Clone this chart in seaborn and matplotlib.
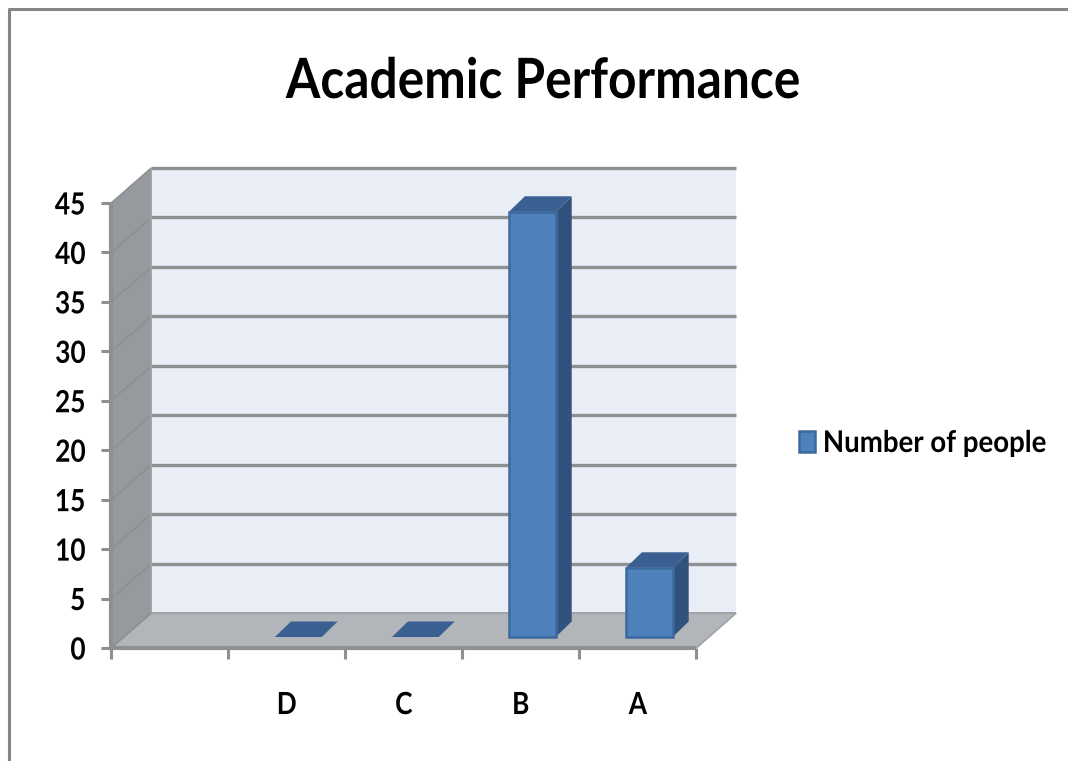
import matplotlib
matplotlib.use("Agg")
import matplotlib.pyplot as plt
import numpy as np
import pandas as pd
import seaborn as sns
from matplotlib.lines import Line2D
from matplotlib.patches import Patch, Polygon
from matplotlib.patheffects import AbstractPathEffect
from matplotlib.transforms import Affine2D, IdentityTransform

# Chart content
title = "Academic Performance"
series_name = "Number of people"
grades = ["", "D", "C", "B", "A"]
people = [np.nan, 0, 0, 43, 7]
y_ticks = [0, 5, 10, 15, 20, 25, 30, 35, 40, 45]

# Palette
WALL = "#e9edf6"
SIDE_WALL = "#96999e"
FLOOR = "#b2b5b9"
RULE = "#8e8f90"
BAR = "#4f81bd"
BAR_EDGE = "#3c6a9f"
BAR_TOP = "#3a6091"
BAR_SIDE = "#31527c"
FRAME = "#858585"

# Pseudo-3D offsets, in pixels
ROOM_DX, ROOM_DY = 40, 35
BAR_SHIFT_DX, BAR_SHIFT_DY = 11.5, 11
BAR_DX, BAR_DY = 16, 15.5

W, H = 1068, 761
sns.set_theme(style="white")
plt.rcParams["font.family"] = ["Lato", "DejaVu Sans"]


class Condensed(AbstractPathEffect):
    """Narrow the glyphs horizontally, keeping the given anchor of the string in place."""

    def __init__(self, factor, anchor=0.0):
        super().__init__()
        self.factor = factor
        self.anchor = anchor

    def draw_path(self, renderer, gc, tpath, affine, rgbFace=None):
        right = tpath.get_extents().x1
        squeeze = Affine2D().scale(self.factor, 1).translate((1 - self.factor) * self.anchor * right, 0)
        renderer.draw_path(gc, tpath, squeeze + affine, rgbFace)


fig = plt.figure(figsize=(W / 100, H / 100), dpi=100, facecolor="white")
ax = fig.add_axes([111.3 / W, (H - 648) / H, 585 / W, 445 / H], facecolor="none")

df = pd.DataFrame({"grade": grades, "people": people})
sns.barplot(data=df, x="grade", y="people", order=grades, width=0.40,
            color=BAR, saturation=1, ax=ax, zorder=5)

ax.set_xlim(-0.5, len(grades) - 0.5)
ax.set_ylim(min(y_ticks), max(y_ticks))
ax.set_xlabel("")
ax.set_ylabel("")
for side in ax.spines.values():
    side.set_visible(False)


def to_px(x, y):
    return ax.transData.transform((x, y))


def face(points, color, z, edge="none", lw=0.0):
    ax.add_patch(Polygon(points, closed=True, facecolor=color, edgecolor=edge, linewidth=lw,
                         transform=IdentityTransform(), clip_on=False, zorder=z))


def rule(p, q, z=2, lw=2.4, color=RULE):
    ax.add_line(Line2D([p[0], q[0]], [p[1], q[1]], color=color, linewidth=lw,
                       transform=IdentityTransform(), clip_on=False, zorder=z,
                       solid_capstyle="butt"))


room = np.array([ROOM_DX, ROOM_DY])
x0, x1 = ax.get_xlim()
y0, y1 = ax.get_ylim()
fl, fr, tl = to_px(x0, y0), to_px(x1, y0), to_px(x0, y1)
tr = to_px(x1, y1)

# Room: back wall, side wall, floor
face([fl + room, fr + room, tr + room, tl + room], WALL, 0)
face([fl, fl + room, tl + room, tl], SIDE_WALL, 1)
face([fl, fr, fr + room, fl + room], FLOOR, 1)

# Value rules along the side wall and the back wall
for v in y_ticks:
    a, b = to_px(x0, v), to_px(x1, v)
    rule(a, a + room, lw=1.2)
    if v != y_ticks[0]:
        rule(a + room, b + room)
rule(fl + room, fr + room, lw=1.4, color="#a0a2a5")
rule(fr, fr + room, lw=1.2, color="#a0a2a5")
rule(fl + room, tl + room, lw=1.4, color="#a0a2a5")

# Front axis lines
rule(fl, tl, z=3, lw=3.0)
rule(fl, fr, z=3, lw=3.0)

# Lift the seaborn bars onto the floor and add their side and top faces
shift = np.array([BAR_SHIFT_DX, BAR_SHIFT_DY])
depth = np.array([BAR_DX, BAR_DY])
lift = ax.transData + Affine2D().translate(*shift)
for bar in ax.patches:
    if isinstance(bar, Polygon) or not np.isfinite(bar.get_height()):
        continue
    left, width, height = bar.get_x(), bar.get_width(), bar.get_height()
    br = to_px(left + width, 0) + shift
    tl_b = to_px(left, height) + shift
    tr_b = to_px(left + width, height) + shift
    face([br, br + depth, tr_b + depth, tr_b], BAR_SIDE, 4)
    face([tl_b, tr_b, tr_b + depth, tl_b + depth], BAR_TOP, 4)
    bar.set_transform(lift)
    bar.set_clip_on(False)
    bar.set_edgecolor(BAR_EDGE if height > 0 else "none")
    bar.set_linewidth(1.8 if height > 0 else 0)

# Ticks: value ticks on the left, category boundaries below
ax.set_yticks(y_ticks)
ax.set_yticklabels([str(v) for v in y_ticks])
ax.set_xticks(range(len(grades)))
ax.set_xticklabels(grades)
ax.set_xticks(np.arange(len(grades) + 1) - 0.5, minor=True)
ax.tick_params(axis="y", which="major", left=True, length=7.5, width=2.2, color=RULE, pad=11,
               labelsize=22, labelcolor="black")
ax.tick_params(axis="x", which="major", bottom=False, pad=25, labelsize=22, labelcolor="black")
ax.tick_params(axis="x", which="minor", bottom=True, length=8, width=2.2, color=RULE)
for label in ax.get_yticklabels():
    label.set_fontweight("bold")
    label.set_path_effects([Condensed(0.86, anchor=1.0)])
for label in ax.get_xticklabels():
    label.set_fontweight("bold")
    label.set_path_effects([Condensed(0.86, anchor=0.5)])

fig.text(543 / W, 1 - 98 / H, title, ha="center", va="baseline", color="black",
         fontsize=40, fontweight="bold", path_effects=[Condensed(0.894, anchor=0.5)])

legend = fig.legend(handles=[Patch(facecolor=BAR, edgecolor=BAR_EDGE, linewidth=1.8, label=series_name)],
                    loc="center left", bbox_to_anchor=(793 / W, 1 - 443 / H), frameon=False,
                    handlelength=0.55, handleheight=0.67, handletextpad=0.25, borderpad=0.2,
                    borderaxespad=0, prop={"size": 21.5, "weight": "bold"})
for entry in legend.get_texts():
    entry.set_color("black")
    entry.set_path_effects([Condensed(0.925)])

# Chart area frame, running off the right and bottom edges
fig.add_artist(Line2D([9 / W, 9 / W, 1], [0, 1 - 9 / H, 1 - 9 / H], color=FRAME, linewidth=2.2,
                      transform=fig.transFigure))

fig.savefig("out.png", dpi=100, facecolor="white")
